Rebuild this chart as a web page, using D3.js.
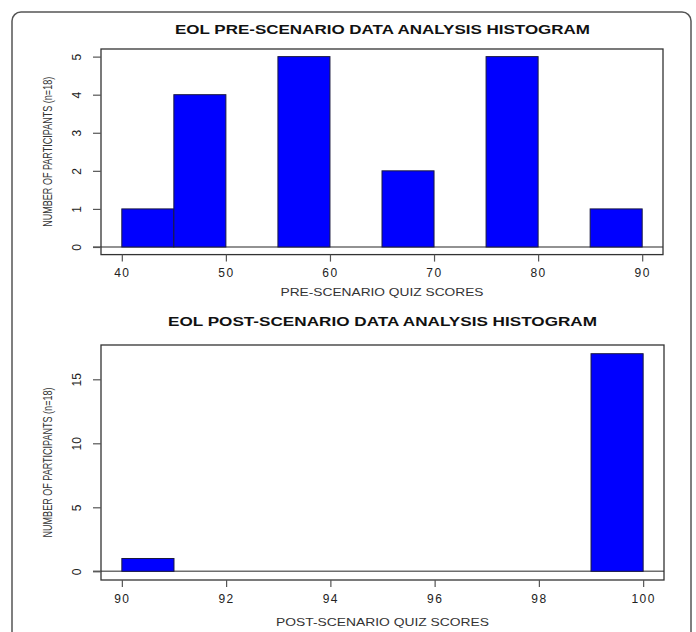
<!DOCTYPE html>
<html><head><meta charset="utf-8">
<script src="https://cdn.jsdelivr.net/npm/d3@7"></script>
<style>body{margin:0;background:#fff}svg{display:block;font-family:"Liberation Sans",Arial,sans-serif}</style>
</head><body>
<svg id="c" width="696" height="632"></svg>
<script>
const preEdges = [40,45,50,55,60,65,70,75,80,85,90];
const preCounts = [1,4,0,5,0,2,0,5,0,1];
const preXTicks = [40,50,60,70,80,90];
const preYTicks = [0,1,2,3,4,5];
const postEdges = [90,91,92,93,94,95,96,97,98,99,100];
const postCounts = [1,0,0,0,0,0,0,0,0,17];
const postXTicks = [90,92,94,96,98,100];
const postYTicks = [0,5,10,15];
const titles = ["EOL PRE-SCENARIO DATA ANALYSIS HISTOGRAM","EOL POST-SCENARIO DATA ANALYSIS HISTOGRAM"];
const xLabels = ["PRE-SCENARIO QUIZ SCORES","POST-SCENARIO QUIZ SCORES"];
const yLabel = "NUMBER OF PARTICIPANTS (n=18)";

const svg = d3.select("#c");
svg.append("rect").attr("x",12).attr("y",12).attr("width",679).attr("height",640)
  .attr("rx",9).attr("fill","none").attr("stroke","#555").attr("stroke-width",1.5);

function panel(cfg){
  const x = d3.scaleLinear().domain(cfg.xdom).range([cfg.left,cfg.right]);
  const y = d3.scaleLinear().domain(cfg.ydom).range([cfg.bottom,cfg.top]);
  const g = svg.append("g");
  const bins = cfg.counts.map((c,i)=>({x0:cfg.edges[i],x1:cfg.edges[i+1],c})).filter(d=>d.c>0);
  // baseline
  g.append("line").attr("x1",cfg.left-8).attr("x2",cfg.right).attr("y1",y(0)).attr("y2",y(0))
    .attr("stroke","#6e6e6e").attr("stroke-width",1.6);
  g.selectAll("rect.bar").data(bins).join("rect").attr("class","bar")
    .attr("x",d=>x(d.x0)).attr("width",d=>x(d.x1)-x(d.x0))
    .attr("y",d=>y(d.c)).attr("height",d=>y(0)-y(d.c))
    .attr("fill","#0000ff").attr("stroke","#1a1a40").attr("stroke-width",1);
  // box
  g.append("rect").attr("x",cfg.left).attr("y",cfg.top).attr("width",cfg.right-cfg.left).attr("height",cfg.bottom-cfg.top)
    .attr("fill","none").attr("stroke","#333").attr("stroke-width",1.3);
  // x axis
  const xa = g.append("g").attr("transform",`translate(0,${cfg.bottom})`)
    .call(d3.axisBottom(x).tickValues(cfg.xticks).tickSize(7).tickPadding(7).tickFormat(d3.format("d")));
  xa.select(".domain").remove();
  xa.selectAll("line").attr("stroke","#555").attr("stroke-width",1.2);
  xa.selectAll("text").attr("font-size",12).attr("fill","#222").attr("letter-spacing",1.5)
    .attr("font-family","Liberation Sans, Arial, sans-serif");
  // y axis
  const ya = g.append("g").attr("transform",`translate(${cfg.left},0)`)
    .call(d3.axisLeft(y).tickValues(cfg.yticks).tickSize(8).tickFormat(d3.format("d")));
  ya.select(".domain").remove();
  ya.selectAll("line").attr("stroke","#555").attr("stroke-width",1.2);
  ya.selectAll("text").attr("x",-20).attr("dy",0).attr("font-size",12).attr("fill","#222")
    .attr("text-anchor","middle").attr("transform","rotate(-90)")
    .attr("font-family","Liberation Sans, Arial, sans-serif")
    .each(function(d){ d3.select(this).attr("x",-y(d)).attr("y",-cfg.left+81); });
  ya.selectAll("text").attr("transform",null);
  ya.selectAll(".tick").each(function(d){
    d3.select(this).select("text").attr("transform",`translate(${81-cfg.left},0) rotate(-90)`)
      .attr("x",0).attr("y",0);
  });
  // titles
  g.append("text").attr("x",cfg.titleX).attr("y",cfg.titleY).attr("text-anchor","middle")
    .attr("font-weight","bold").attr("font-size",12).attr("fill","#111")
    .attr("textLength",cfg.titleW).attr("lengthAdjust","spacingAndGlyphs").text(cfg.title);
  g.append("text").attr("x",cfg.xlX).attr("y",cfg.xlY).attr("text-anchor","middle")
    .attr("font-size",11).attr("fill","#333")
    .attr("textLength",cfg.xlW).attr("lengthAdjust","spacingAndGlyphs").text(cfg.xlabel);
  g.append("text").attr("transform",`translate(52,${(cfg.top+cfg.bottom)/2}) rotate(-90)`)
    .attr("text-anchor","middle").attr("font-size",13).attr("fill","#333")
    .attr("textLength",150).attr("lengthAdjust","spacingAndGlyphs").text(yLabel);
}

panel({xdom:[38,92],ydom:[-0.2,5.2],left:101,right:663,top:49,bottom:254.6,
  edges:preEdges,counts:preCounts,xticks:preXTicks,yticks:preYTicks,
  title:titles[0],titleX:382.5,titleY:33.5,titleW:415,
  xlabel:xLabels[0],xlX:382,xlY:296,xlW:203});
panel({xdom:[89.6,100.4],ydom:[-0.68,17.68],left:101,right:664,top:345,bottom:580,
  edges:postEdges,counts:postCounts,xticks:postXTicks,yticks:postYTicks,
  title:titles[1],titleX:382.5,titleY:326,titleW:429,
  xlabel:xLabels[1],xlX:382.5,xlY:626,xlW:213});
</script>
</body></html>
